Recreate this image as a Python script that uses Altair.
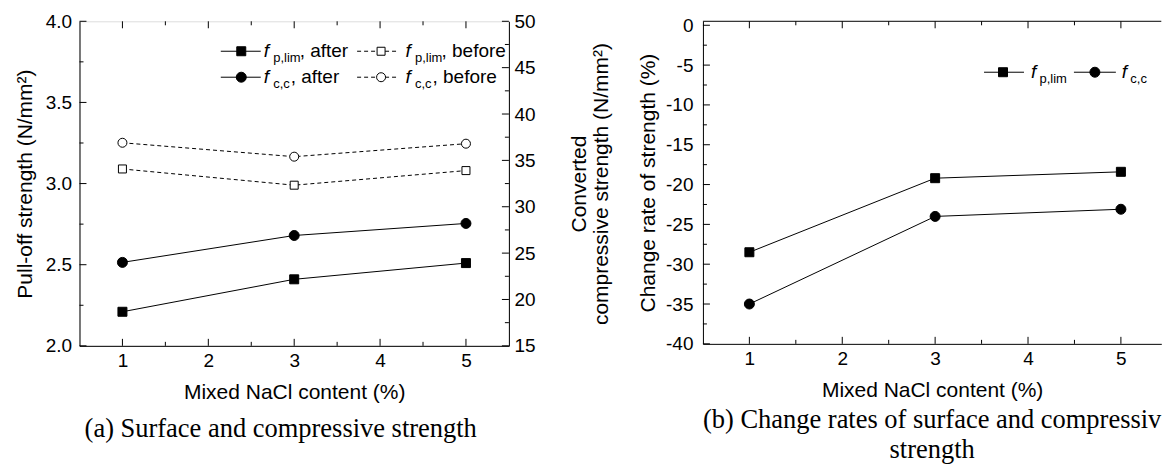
import altair as alt
import pandas as pd

# ---------------- data ----------------
nacl = [1, 3, 5]
fp_after = [2.21, 2.41, 2.51]
fp_before = [3.09, 2.99, 3.08]
fc_after = [24.0, 26.9, 28.2]
fc_before = [36.9, 35.4, 36.8]
rate_fp = [-28.5, -19.2, -18.4]
rate_fc = [-35.0, -24.0, -23.1]

x_major = [1, 2, 3, 4, 5]
x_minor = [1.5, 2.5, 3.5, 4.5]
pull_major = [2.0, 2.5, 3.0, 3.5, 4.0]
pull_minor = [2.25, 2.75, 3.25, 3.75]
comp_major = [15, 20, 25, 30, 35, 40, 45, 50]
comp_minor = [17.5, 22.5, 27.5, 32.5, 37.5, 42.5, 47.5]
rate_major = [0, -5, -10, -15, -20, -25, -30, -35, -40]
rate_minor = [-2.5, -7.5, -12.5, -17.5, -22.5, -27.5, -32.5, -37.5]

sym_f = "f"
sub_p = "p,lim"
sub_c = "c,c"
suffix_after = ", after"
suffix_before = ", before"
caption_a = "(a) Surface and compressive strength"
caption_b = ["(b) Change rates of surface and compressiv", "strength\u00a0\u00a0\u00a0"]

SANS = "Liberation Sans"
SERIF = "Liberation Serif"
LW, LH = 430, 325
RW, RH = 459, 323
MAJ, MIN = 7, 4
LAB, TIT = 19, 21

df_left = pd.DataFrame({"nacl": nacl, "fp_after": fp_after, "fp_before": fp_before,
                        "fc_after": fc_after, "fc_before": fc_before})
df_right = pd.DataFrame({"nacl": nacl, "rate_fp": rate_fp, "rate_fc": rate_fc})

x_scale_l = alt.Scale(domain=[0.5, 5.5], nice=False, zero=False)
x_scale_r = alt.Scale(domain=[0.5, 5.435], nice=False, zero=False)
pull_scale = alt.Scale(domain=[2.0, 4.0], nice=False, zero=False)
comp_scale = alt.Scale(domain=[15, 50], nice=False, zero=False)
rate_scale = alt.Scale(domain=[-40, 0.5], nice=False, zero=False)

common = dict(ticks=False, grid=False, labelFont=SANS, labelFontSize=LAB, titleFont=SANS,
              titleFontSize=TIT, titleFontWeight="normal", domainColor="black",
              labelColor="black", titleColor="black", labelFlush=False, labelOverlap=False)

x_axis = alt.Axis(values=x_major, title="Mixed NaCl content (%)", format="d",
                  labelPadding=6, titlePadding=11, **common)
pull_axis = alt.Axis(values=pull_major, title="Pull-off strength (N/mm²)", format=".1f",
                     labelPadding=8, titlePadding=10, **common)
comp_axis = alt.Axis(values=comp_major, orient="right", format="d",
                     title=["Converted", "compressive strength (N/mm²)"], titleAngle=270,
                     titleBaseline="top", titleLineHeight=22,
                     labelPadding=5, titlePadding=12, **common)
rate_axis = alt.Axis(values=rate_major, title="Change rate of strength (%)",
                     labelExpr="datum.value + ''", labelPadding=10, titlePadding=7, **common)


def make_x(scale):
    def X(field="nacl"):
        return alt.X(f"{field}:Q", scale=scale, axis=x_axis)
    return X


def x_ticks(X, vals, H, L):
    d = pd.DataFrame({"nacl": vals})
    b = alt.Chart(d).mark_rule(color="black", strokeWidth=1)
    return [b.encode(x=X(), y=alt.value(H), y2=alt.value(H - L)),
            b.encode(x=X(), y=alt.value(0), y2=alt.value(L))]


def y_ticks(vals, field, scale, axis, xpos, L):
    d = pd.DataFrame({field: vals})
    b = alt.Chart(d).mark_rule(color="black", strokeWidth=1)
    x2 = xpos + L if xpos == 0 else xpos - L
    return [b.encode(y=alt.Y(f"{field}:Q", scale=scale, axis=axis),
                     x=alt.value(xpos), x2=alt.value(x2))]


def series(X, df, field, scale, axis, shape, filled, dashed, size):
    base = alt.Chart(df)
    y = alt.Y(f"{field}:Q", scale=scale, axis=axis)
    line_kw = dict(color="black", strokeWidth=1)
    if dashed:
        line_kw["strokeDash"] = [4, 3]
    line = base.mark_line(**line_kw).encode(x=X(), y=y)
    pts = base.mark_point(shape=shape, filled=True, size=size, opacity=1,
                          fill="black" if filled else "white", stroke="black",
                          strokeWidth=1).encode(x=X(), y=y)
    return [line, pts]


def text_layer(txt, x, y, size, italic=False):
    d = pd.DataFrame({"t": [txt]})
    return alt.Chart(d).mark_text(align="left", baseline="alphabetic", font=SANS, fontSize=size,
                                  fontStyle="italic" if italic else "normal",
                                  color="black").encode(text="t:N", x=alt.value(x), y=alt.value(y))


def legend_entry(x0, x1, xs, y, shape, filled, dashed, size, xf, sub, xsub, suffix=None, xsuf=None):
    d = pd.DataFrame({"t": [sub]})
    kw = dict(color="black", strokeWidth=1)
    if dashed:
        kw["strokeDash"] = [4, 3]
    layers = [alt.Chart(d).mark_rule(**kw).encode(x=alt.value(x0), x2=alt.value(x1), y=alt.value(y)),
              alt.Chart(d).mark_point(shape=shape, filled=True, size=size, opacity=1,
                                      fill="black" if filled else "white", stroke="black",
                                      strokeWidth=1).encode(x=alt.value(xs), y=alt.value(y)),
              text_layer(sym_f, xf, y + 6, LAB, italic=True),
              text_layer(sub, xsub, y + 11, 13)]
    if suffix:
        layers.append(text_layer(suffix, xsuf, y + 6, LAB))
    return layers


# ---------------- left panel ----------------
XL = make_x(x_scale_l)
left_layers = []
left_layers += x_ticks(XL, x_major, LH, MAJ) + x_ticks(XL, x_minor, LH, MIN)
left_layers += y_ticks(pull_major, "fp_after", pull_scale, pull_axis, 0, MAJ)
left_layers += y_ticks(pull_minor, "fp_after", pull_scale, pull_axis, 0, MIN)
left_layers += series(XL, df_left, "fp_before", pull_scale, pull_axis, "square", False, True, 64)
left_layers += series(XL, df_left, "fp_after", pull_scale, pull_axis, "square", True, False, 81)
r1, r2 = 30, 56
left_layers += legend_entry(141.5, 181.5, 162, r1, "square", True, False, 81, 184.5, sub_p, 194, suffix_after, 220.5)
left_layers += legend_entry(278, 319.5, 302, r1, "square", False, True, 64, 326.5, sub_p, 336, suffix_before, 362.5)
left_layers += legend_entry(141.5, 181.5, 162, r2, "circle", True, False, 100, 184.5, sub_c, 194, suffix_after, 211.5)
left_layers += legend_entry(278, 319.5, 302, r2, "circle", False, True, 81, 326.5, sub_c, 336, suffix_before, 353.5)
left_group = alt.layer(*left_layers)

right_layers = []
right_layers += y_ticks(comp_major, "fc_after", comp_scale, comp_axis, LW, MAJ)
right_layers += y_ticks(comp_minor, "fc_after", comp_scale, comp_axis, LW, MIN)
right_layers += series(XL, df_left, "fc_before", comp_scale, comp_axis, "circle", False, True, 81)
right_layers += series(XL, df_left, "fc_after", comp_scale, comp_axis, "circle", True, False, 100)
right_group = alt.layer(*right_layers)

left_chart = alt.layer(left_group, right_group).resolve_scale(y="independent").properties(
    width=LW, height=LH,
    title=alt.TitleParams(text=caption_a, orient="bottom", font=SERIF, fontSize=26.5,
                          fontWeight="normal", anchor="middle", frame="group", color="black",
                          offset=13, dx=-13.5))

# ---------------- right panel ----------------
XR = make_x(x_scale_r)
rl = []
top_frame = alt.Chart(pd.DataFrame({"t": [0]})).mark_rule(color="black", strokeWidth=1).encode(
    x=alt.value(0), x2=alt.value(RW), y=alt.value(0))
rl.append(top_frame)
rl += x_ticks(XR, x_major, RH, MAJ) + x_ticks(XR, x_minor, RH, MIN)
rl += y_ticks(rate_major, "rate_fp", rate_scale, rate_axis, 0, MAJ)
rl += y_ticks(rate_minor, "rate_fp", rate_scale, rate_axis, 0, MIN)
rl += series(XR, df_right, "rate_fp", rate_scale, rate_axis, "square", True, False, 81)
rl += series(XR, df_right, "rate_fc", rate_scale, rate_axis, "circle", True, False, 100)
ry = 51
rl += legend_entry(281.5, 321.5, 300.5, ry, "square", True, False, 81, 328.5, sub_p, 337)
rl += legend_entry(371.5, 413.5, 392.5, ry, "circle", True, False, 100, 419.5, sub_c, 428)
right_chart = alt.layer(*rl).properties(
    width=RW, height=RH, view=alt.ViewBackground(stroke="transparent"),
    title=alt.TitleParams(text=caption_b, orient="bottom", font=SERIF, fontSize=26.5,
                          fontWeight="normal", anchor="middle", frame="group", color="black",
                          offset=6, dx=0, lineHeight=30))

chart = alt.hconcat(left_chart, right_chart, spacing=194.3, bounds="flush").properties(
    padding={"left": 13.6, "top": 11, "right": 0, "bottom": 0}
).configure_view(stroke="black", strokeWidth=1).configure(background="white")

chart.save("out.html", embed_options={"renderer": "svg", "actions": False})
